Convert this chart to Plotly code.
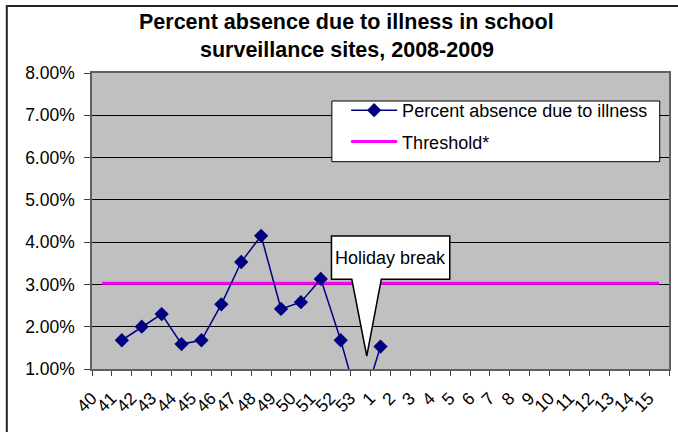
import plotly.graph_objects as go

weeks = ["40", "41", "42", "43", "44", "45", "46", "47", "48", "49", "50", "51", "52", "53",
         "1", "2", "3", "4", "5", "6", "7", "8", "9", "10", "11", "12", "13", "14", "15"]
absence = [None, 0.0168, 0.0200, 0.0230, 0.0159, 0.0168, 0.0253, 0.0353, 0.0415, 0.0242,
           0.0258, 0.0313, 0.0168, 0.0, 0.0153] + [None] * 14
threshold = [0.0303] * len(weeks)
y_ticks = [0.01, 0.02, 0.03, 0.04, 0.05, 0.06, 0.07, 0.08]

FONT = "Arial, Liberation Sans, sans-serif"

# plot-area pixel geometry (for paper-coordinate conversions)
W, H = 678, 432
L, R, T, B = 92, 7, 73, 63
PW, PH = W - L - R, H - T - B


def px(x):
    return (x - L) / PW


def py(y):
    return (H - B - y) / PH


fig = go.Figure()
fig.add_trace(go.Scatter(
    x=weeks, y=threshold, mode="lines", name="Threshold*",
    line=dict(color="#FF00FF", width=3), legendgroup="b", legendrank=2,
))
fig.add_trace(go.Scatter(
    x=weeks, y=absence, mode="lines+markers", name="Percent absence due to illness",
    line=dict(color="#000080", width=1.5),
    marker=dict(symbol="diamond", size=11, color="#000080"),
    legendgroup="a", legendrank=1, connectgaps=False,
))

# callout "Holiday break"
bx0, bx1, by0, by1 = px(332.3), px(451), py(236), py(279.3)
tr, tip_x, tip_y, tl = px(382.3), px(367.7), py(356), px(352.7)
path = (f"M {bx0},{by0} L {bx1},{by0} L {bx1},{by1} L {tr},{by1} "
        f"L {tip_x},{tip_y} L {tl},{by1} L {bx0},{by1} Z")

shapes = [
    # legend frame
    dict(type="rect", xref="paper", yref="paper", x0=px(332.7), x1=px(661.7), y0=py(101), y1=py(161.7),
         fillcolor="white", line=dict(color="black", width=1), layer="above"),
    # callout
    dict(type="path", xref="paper", yref="paper", path=path, fillcolor="white",
         line=dict(color="black", width=1.5), layer="above"),
    # chart border
    dict(type="rect", xref="paper", yref="paper", x0=px(6.5), x1=px(700), y0=py(6), y1=py(460),
         line=dict(color="#222222", width=2), fillcolor="rgba(0,0,0,0)", layer="below"),
]

annotations = [
    dict(xref="paper", yref="paper", x=(bx0 + bx1) / 2, y=(by0 + by1) / 2, text="Holiday break",
         showarrow=False, font=dict(family=FONT, size=18, color="black")),
    dict(xref="paper", yref="paper", x=px(347), y=py(22), text="<b>Percent absence due to illness in school</b>",
         showarrow=False, font=dict(family=FONT, size=21.5, color="black"), yanchor="middle"),
    dict(xref="paper", yref="paper", x=px(348), y=py(50), text="<b>surveillance sites, 2008-2009</b>",
         showarrow=False, font=dict(family=FONT, size=21.5, color="black"), yanchor="middle"),
]

NBSP = "\u00a0"
tick_text = [w + NBSP * 3 for w in weeks]

fig.update_layout(
    width=W, height=H,
    margin=dict(l=L, r=R, t=T, b=B, pad=0),
    paper_bgcolor="white", plot_bgcolor="#C0C0C0",
    font=dict(family=FONT, size=17.5, color="black"),
    shapes=shapes, annotations=annotations,
    showlegend=True,
    legend=dict(
        x=px(347), y=py(92), xanchor="left", yanchor="top",
        bgcolor="rgba(0,0,0,0)", borderwidth=0,
        font=dict(family=FONT, size=18, color="black"),
        traceorder="grouped", tracegroupgap=5, itemwidth=46,
    ),
    xaxis=dict(
        type="category", categoryorder="array", categoryarray=weeks,
        range=[-0.5, len(weeks) - 0.5], autorange=False,
        tickmode="array", tickvals=weeks, ticktext=tick_text,
        showgrid=False, showline=True, linecolor="#606060", linewidth=1.5, mirror=True,
        ticks="outside", ticklen=5, tickcolor="#404040", tickson="boundaries",
        tickangle=-45, tickfont=dict(family=FONT, size=17.5), ticklabelstandoff=0,
        zeroline=False, fixedrange=True,
    ),
    yaxis=dict(
        range=[0.01, 0.08], tickvals=y_ticks, tickformat=".2%",
        showgrid=True, gridcolor="black", gridwidth=1,
        showline=True, linecolor="#606060", linewidth=1.5, mirror=True,
        ticks="outside", ticklen=6, tickcolor="#404040",
        tickfont=dict(family=FONT, size=17.5), ticklabelstandoff=6,
        zeroline=False, fixedrange=True,
    ),
)

fig.write_html("out.html", config={"displayModeBar": False},
               post_script="document.body.style.margin='0';")
